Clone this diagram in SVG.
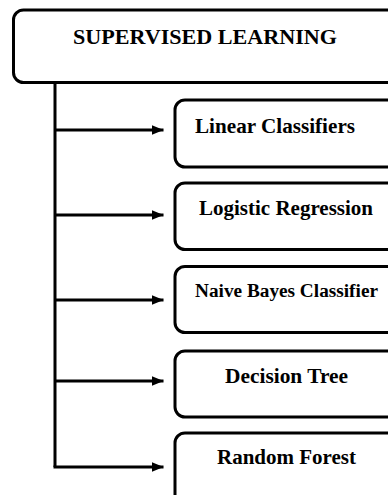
<svg xmlns="http://www.w3.org/2000/svg" width="388" height="495" viewBox="0 0 388 495">
<defs>
<style>
.box{fill:#fff;stroke:#000;stroke-width:3}
.lbl{font-family:"Liberation Serif","Times New Roman",serif;font-weight:bold;fill:#000}
.ln{stroke:#000;stroke-width:3;fill:none}
</style>
<marker id="ah" markerWidth="12" markerHeight="10" refX="12" refY="5" orient="auto" markerUnits="userSpaceOnUse">
<polygon points="0,0 12,5 0,10" fill="#000"/>
</marker>
</defs>
<rect width="388" height="495" fill="#fff"/>
<g id="root">
<rect class="box" x="13.5" y="10" width="400" height="72.5" rx="10"/>
<text class="lbl" x="73" y="43.5" font-size="21" textLength="264" lengthAdjust="spacingAndGlyphs">SUPERVISED LEARNING</text>
</g>
<g id="connectors">
<path class="ln" d="M55,82 V467"/>
<path class="ln" d="M55,130 H163.5" marker-end="url(#ah)"/>
<path class="ln" d="M55,215 H163.5" marker-end="url(#ah)"/>
<path class="ln" d="M55,300 H163.5" marker-end="url(#ah)"/>
<path class="ln" d="M55,381 H163.5" marker-end="url(#ah)"/>
<path class="ln" d="M53.5,467 H163.5" marker-end="url(#ah)"/>
</g>
<g id="n1">
<rect class="box" x="175" y="100" width="240" height="67" rx="10"/>
<text class="lbl" x="195" y="132.5" font-size="21" textLength="160" lengthAdjust="spacingAndGlyphs">Linear Classifiers</text>
</g>
<g id="n2">
<rect class="box" x="175" y="183" width="240" height="66.5" rx="10"/>
<text class="lbl" x="199" y="214.5" font-size="21" textLength="174" lengthAdjust="spacingAndGlyphs">Logistic Regression</text>
</g>
<g id="n3">
<rect class="box" x="175" y="266.5" width="240" height="66" rx="10"/>
<text class="lbl" x="195" y="296.5" font-size="19.3" textLength="183" lengthAdjust="spacingAndGlyphs">Naive Bayes Classifier</text>
</g>
<g id="n4">
<rect class="box" x="175" y="351" width="240" height="66" rx="10"/>
<text class="lbl" x="225" y="382.5" font-size="21" textLength="123" lengthAdjust="spacingAndGlyphs">Decision Tree</text>
</g>
<g id="n5">
<rect class="box" x="175" y="433" width="240" height="80" rx="10"/>
<text class="lbl" x="217" y="463.5" font-size="21" textLength="139" lengthAdjust="spacingAndGlyphs">Random Forest</text>
</g>
</svg>
